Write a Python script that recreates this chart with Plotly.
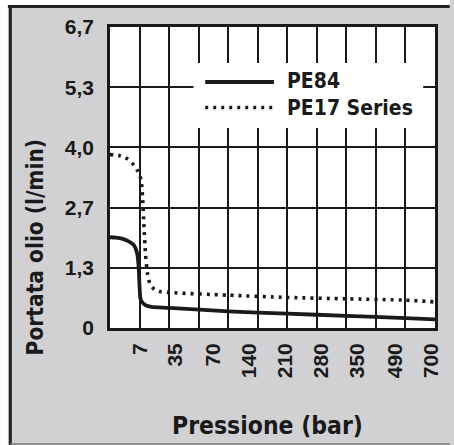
import plotly.graph_objects as go

# ---- data (x in grid-cell units of the chart's non-linear pressure axis) ----
pe84_x = [0, 0.2, 0.4, 0.6, 0.8, 0.92, 0.97, 1.0, 1.03, 1.08, 1.2, 1.4, 2, 4, 6, 8, 10, 11]
pe84_y = [2.02, 2.01, 1.99, 1.94, 1.85, 1.66, 1.36, 0.92, 0.66, 0.58, 0.51, 0.47, 0.45, 0.37, 0.32, 0.27, 0.22, 0.19]
pe17_x = [0, 0.3, 0.6, 0.8, 0.95, 1.05, 1.1, 1.15, 1.2, 1.27, 1.35, 1.5, 1.7, 2, 4, 6, 8, 10, 11]
pe17_y = [3.86, 3.84, 3.76, 3.63, 3.48, 3.30, 2.93, 2.26, 1.66, 1.21, 0.99, 0.86, 0.81, 0.79, 0.73, 0.68, 0.65, 0.62, 0.58]

x_tick_pos = [1.01, 2.22, 3.50, 4.72, 5.94, 7.16, 8.38, 9.65, 10.87]
x_tick_text = ["7", "35", "70", "140", "210", "280", "350", "490", "700"]
y_tick_vals = [0, 1.34, 2.68, 4.02, 5.36, 6.7]
y_tick_text = ["0", "1,3", "2,7", "4,0", "5,3", "6,7"]
series_names = ["PE84", "PE17 Series"]

W, H = 454, 445
L, R, T, B = 110, 441, 27, 328
def px(x):
    return (x - L) / (R - L)
def py(y):
    return (B - y) / (B - T)

COND = "Liberation Sans Narrow, DejaVu Sans Condensed, Arial Narrow, sans-serif"
BOLD = "Liberation Sans, Arial, sans-serif"
INK = "#1a1a1a"
DOT = "3px,5px"

fig = go.Figure()
fig.add_trace(go.Scatter(x=pe84_x, y=pe84_y, mode="lines", name=series_names[0],
                         line=dict(color=INK, width=3.8, shape="spline", smoothing=0.6),
                         showlegend=False))
fig.add_trace(go.Scatter(x=pe17_x, y=pe17_y, mode="lines", name=series_names[1],
                         line=dict(color=INK, width=3.6, dash=DOT, shape="spline", smoothing=0.6),
                         showlegend=False))
# invisible trace to activate the label axis
fig.add_trace(go.Scatter(x=[0, 11], y=[None, None], xaxis="x2", showlegend=False, hoverinfo="skip"))

shapes = []
# legend box + samples
shapes.append(dict(type="rect", xref="paper", yref="paper", x0=px(195), x1=px(429), y0=py(128), y1=py(63),
                   fillcolor="white", line=dict(width=0), layer="above"))
shapes.append(dict(type="line", xref="paper", yref="paper", x0=px(207), x1=px(277), y0=py(82), y1=py(82),
                   line=dict(color=INK, width=3.8)))
shapes.append(dict(type="line", xref="paper", yref="paper", x0=px(207), x1=px(277), y0=py(107.5), y1=py(107.5),
                   line=dict(color=INK, width=3.6, dash=DOT)))
# outer frame
shapes.append(dict(type="rect", xref="paper", yref="paper", x0=px(0), x1=px(W + 2), y0=py(5), y1=py(-2),
                   fillcolor="white", line=dict(width=0)))
shapes.append(dict(type="rect", xref="paper", yref="paper", x0=px(-2), x1=px(6), y0=py(H + 2), y1=py(0),
                   fillcolor="white", line=dict(width=0)))
shapes.append(dict(type="line", xref="paper", yref="paper", x0=px(6), x1=px(W + 2), y0=py(6.5), y1=py(6.5),
                   line=dict(color="#222222", width=3)))
shapes.append(dict(type="line", xref="paper", yref="paper", x0=px(8.5), x1=px(8.5), y0=py(5), y1=py(H + 2),
                   line=dict(color="#222222", width=3)))
shapes.append(dict(type="line", xref="paper", yref="paper", x0=px(8), x1=px(W + 2), y0=py(444), y1=py(444),
                   line=dict(color="#777777", width=1.5)))

annotations = [
    dict(text=series_names[0], xref="paper", yref="paper", x=px(288), y=py(81), xanchor="left", yanchor="middle",
         showarrow=False, font=dict(family=COND, size=21, color=INK, weight="bold")),
    dict(text=series_names[1], xref="paper", yref="paper", x=px(288), y=py(108), xanchor="left", yanchor="middle",
         showarrow=False, font=dict(family=COND, size=21, color=INK, weight="bold")),
    dict(text="Portata olio (l/min)", xref="paper", yref="paper", x=px(34), y=py(247), textangle=-90,
         xanchor="center", yanchor="middle", showarrow=False,
         font=dict(family=COND, size=22.5, color=INK, weight="bold")),
    dict(text="Pressione (bar)", xref="paper", yref="paper", x=px(270), y=py(425),
         xanchor="center", yanchor="middle", showarrow=False,
         font=dict(family=COND, size=24.5, color=INK, weight="bold")),
]

fig.update_layout(
    width=W, height=H,
    margin=dict(l=L, r=W - R, t=T, b=H - B, pad=0),
    paper_bgcolor="#d1d1d3", plot_bgcolor="white",
    showlegend=False,
    shapes=shapes, annotations=annotations,
    xaxis=dict(range=[0, 11], dtick=1, tick0=0, showgrid=True, gridcolor=INK, gridwidth=2.2,
               showticklabels=False, ticks="", zeroline=False,
               showline=True, mirror=True, linecolor=INK, linewidth=2.5),
    xaxis2=dict(range=[0, 11], overlaying="x", anchor="y", side="bottom", showgrid=False, zeroline=False,
                tickmode="array", tickvals=x_tick_pos, ticktext=x_tick_text, tickangle=-90, ticks="",
                ticklabelstandoff=10,
                tickfont=dict(family=BOLD, size=21, color=INK, weight="bold")),
    yaxis=dict(range=[0, 6.7], tickmode="array", tickvals=y_tick_vals, ticktext=y_tick_text,
               showgrid=True, gridcolor=INK, gridwidth=2.2, zeroline=False, ticks="",
               ticklabelstandoff=9,
               showline=True, mirror=True, linecolor=INK, linewidth=2.5,
               tickfont=dict(family=BOLD, size=21, color=INK, weight="bold")),
)

fig.write_html("out.html", config={"displayModeBar": False},
               post_script="document.body.style.margin='0';document.body.style.padding='0';")
